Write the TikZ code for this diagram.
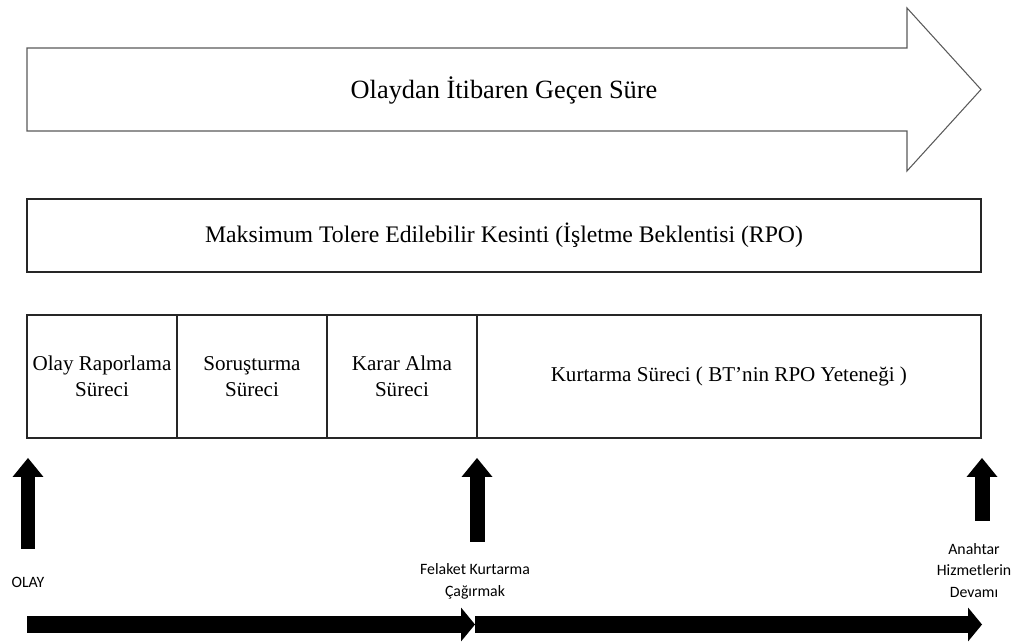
\documentclass[tikz,border=0pt]{standalone}
\usepackage{fontspec}
\setmainfont{Liberation Serif}
\newfontfamily\labelfont{Carlito}
\usetikzlibrary{arrows.meta,positioning}

\begin{document}
\begin{tikzpicture}[x=0.02cm, y=-0.02cm,
    stagebox/.style={draw=black!85, line width=0.9pt, outer sep=0pt, inner sep=0pt,
      minimum height=2.46cm, align=center, font=\fontsize{12}{14.5}\selectfont},
    uparrow/.style={line width=0.3cm, -{Triangle[length=0.38cm, width=0.62cm, line width=0pt]}},
    timearrow/.style={line width=0.34cm, -{Triangle[length=0.28cm, width=0.68cm, line width=0pt]}},
    milestone/.style={font=\labelfont\fontsize{9}{12.3}\selectfont, align=center, inner sep=0pt}]
    \useasboundingbox (0,0) rectangle (1017,644);

    % elapsed time arrow
    \draw [draw=black!65, line width=0.6pt] (27,48) -- (907,48) -- (907,8) -- (981,89.5)
      -- (907,171) -- (907,131) -- (27,131) -- cycle;
    \node [font=\fontsize{15}{18}\selectfont] (elapsed) at (504,90) {Olaydan İtibaren Geçen Süre};

    % tolerable outage
    \node [draw=black!85, line width=0.9pt, minimum width=19.08cm, minimum height=1.46cm,
      font=\fontsize{13.5}{16}\selectfont] (mto) at (504,235.5)
      {Maksimum Tolere Edilebilir Kesinti (İşletme Beklentisi (RPO)};

    % stages
    \node [stagebox, minimum width=3cm] (report) at (102,376.5) {Olay Raporlama\\Süreci};
    \node [stagebox, minimum width=3cm, right=0pt of report] (investigate) {Soruşturma\\Süreci};
    \node [stagebox, minimum width=3cm, right=0pt of investigate] (decide) {Karar Alma\\Süreci};
    \node [stagebox, minimum width=10.08cm, right=0pt of decide] (recover) {Kurtarma Süreci ( BT’nin RPO Yeteneği )};

    % milestones
    \coordinate (olaybase) at (28,549);
    \coordinate (olaytop) at (28,458);
    \coordinate (invokebase) at (477,542);
    \coordinate (invoketop) at (477,458);
    \coordinate (resumebase) at (982,521);
    \coordinate (resumetop) at (982,458);
    \draw [uparrow] (olaybase) -- (olaytop);
    \draw [uparrow] (invokebase) -- (invoketop);
    \draw [uparrow] (resumebase) -- (resumetop);

    \node [milestone] (olay) at (28,582) {OLAY};
    \node [milestone] (invoke) at (475,581.5) {Felaket Kurtarma\\Çağırmak};
    \node [milestone] (resume) at (974,570.5) {Anahtar\\Hizmetlerin\\Devamı};

    % timeline
    \coordinate (t0) at (27,624.5);
    \coordinate (t1) at (475,624.5);
    \coordinate (t2) at (982,624.5);
    \draw [timearrow] (t0) -- (t1);
    \draw [timearrow] (t1) -- (t2);
\end{tikzpicture}
\end{document}
